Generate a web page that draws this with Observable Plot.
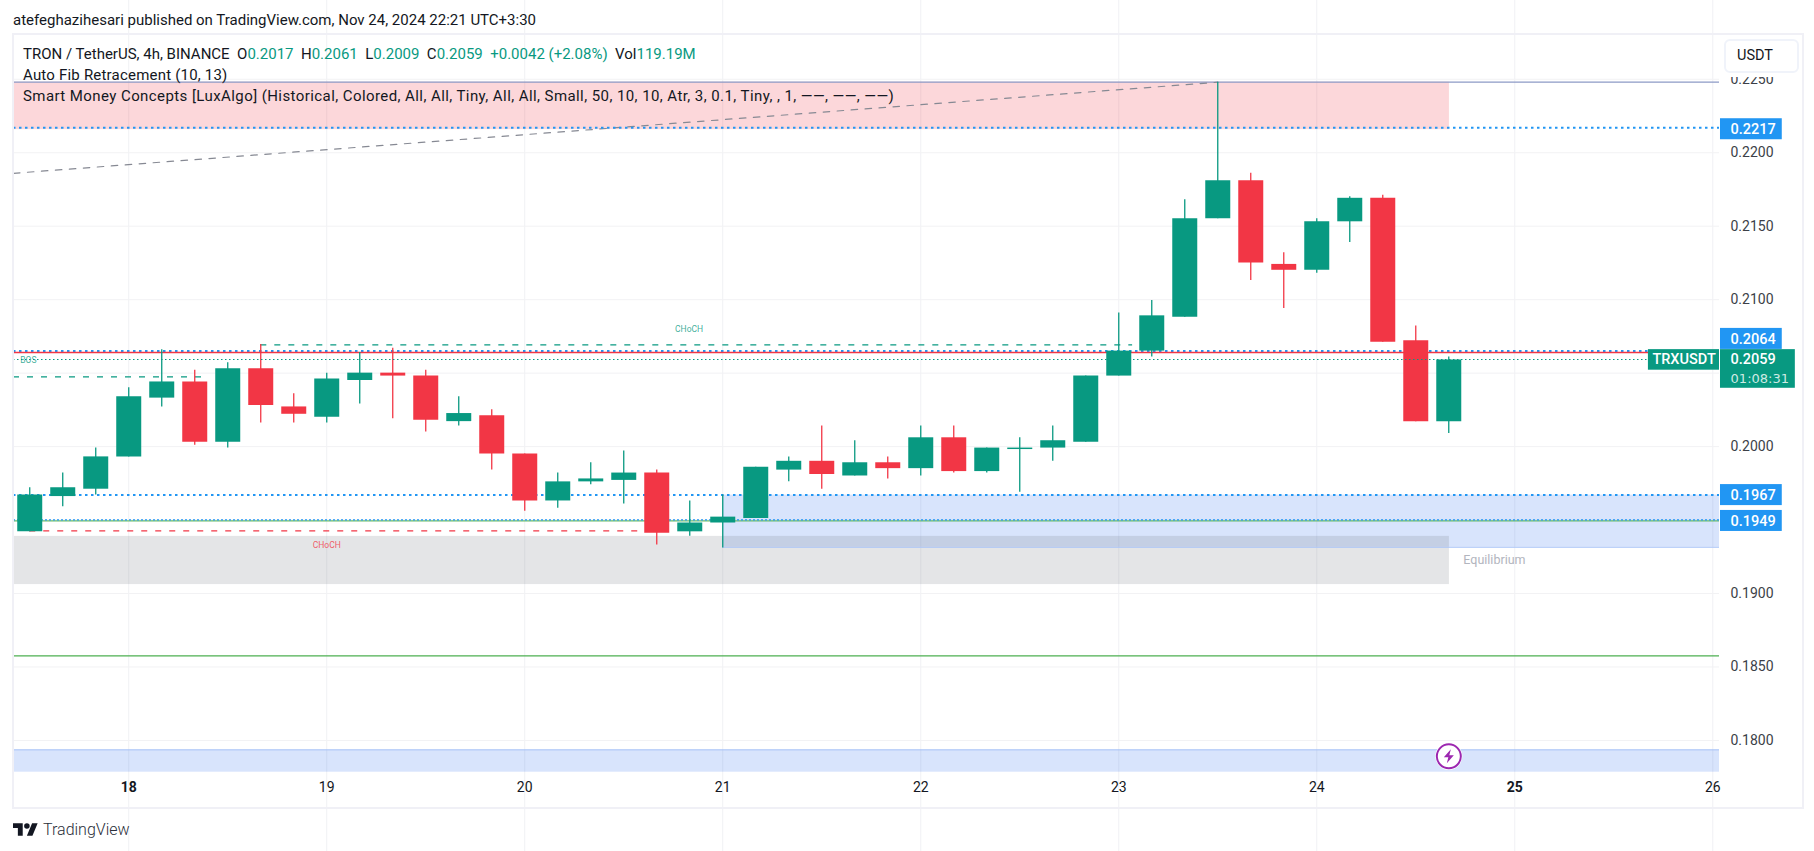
<!DOCTYPE html>
<html><head><meta charset="utf-8">
<script src="https://cdn.jsdelivr.net/npm/d3@7"></script>
<script src="https://cdn.jsdelivr.net/npm/@observablehq/plot@0.6"></script>
<style>
html,body{margin:0;padding:0;background:#fff;overflow:hidden;width:1814px;height:851px}
body{font-family:Roboto,sans-serif;color:#131722;position:relative}
svg{display:block}
.t{position:absolute;white-space:nowrap;font-size:15px;line-height:18px}
.g{color:#089981}
#frame{position:absolute;left:12px;top:33px;width:1788px;height:772px;border:2px solid #f0f0f6;pointer-events:none}
#usdt{position:absolute;left:1724px;top:39px;width:71px;height:30px;border:2px solid #f0f3fa;border-radius:6px;background:#fff;box-shadow:0 4px 0 #fff;font-size:14.5px;line-height:30px;text-indent:11px}
</style></head><body>
<div id="chart"></div>
<div id="frame"></div>
<div id="usdt">USDT</div>
<div class="t" style="left:13px;top:11px;">atefeghazihesari published on TradingView.com, Nov 24, 2024 22:21 UTC+3:30</div>
<div class="t" style="left:23px;top:45px;">TRON / TetherUS, 4h, BINANCE&nbsp;&nbsp;O<span class="g">0.2017</span>&nbsp;&nbsp;H<span class="g">0.2061</span>&nbsp;&nbsp;L<span class="g">0.2009</span>&nbsp;&nbsp;C<span class="g">0.2059</span>&nbsp;&nbsp;<span class="g">+0.0042 (+2.08%)</span>&nbsp;&nbsp;Vol<span class="g">119.19M</span></div>
<div class="t" style="left:23px;top:66px;letter-spacing:.2px">Auto Fib Retracement (10, 13)</div>
<div class="t" style="left:23px;top:87px;letter-spacing:.42px">Smart Money Concepts [LuxAlgo] (Historical, Colored, All, All, Tiny, All, All, Small, 50, 10, 10, Atr, 3, 0.1, Tiny, , 1, ——, ——, ——)</div>
<svg style="position:absolute;left:13px;top:823px" width="25" height="13" viewBox="0 4 36 18"><path fill="#131722" d="M14 22H7V11H0V4h14v18zM28 22h-8l7.5-18h8L28 22z"/><circle fill="#131722" cx="20" cy="8" r="4"/></svg>
<div class="t" style="left:43px;top:821px;font-size:16px;font-weight:300;color:#2a2e39">TradingView</div>
<script>
const startDay = 17.5;
const opens  = [.1942,.1966,.1971,.1993,.2033,.2044,.2003,.2053,.2027,.2020,.2045,.2050,.2048,.2017,.2021,.1995,.1963,.1976,.1977,.1982,.1942,.1948,.1951,.1984,.1990,.1980,.1989,.1985,.2006,.1983,.1998,.1999,.2003,.2048,.2065,.2088,.2155,.2181,.2124,.2120,.2153,.2169,.2072,.2017];
const highs  = [.1972,.1982,.1999,.2040,.2066,.2052,.2057,.20695,.2036,.2050,.2064,.2067,.2052,.2034,.2025,.1995,.1982,.1989,.1997,.1984,.1963,.1967,.1986,.1993,.2014,.2004,.1993,.2014,.2014,.1999,.2006,.2014,.2048,.2091,.20995,.2168,.2248,.2186,.2132,.2155,.2170,.2171,.2082,.2061];
const lows   = [.1942,.1959,.1967,.1993,.2027,.2001,.1999,.2016,.2016,.2016,.2029,.2019,.2010,.2014,.1984,.1956,.1958,.1974,.1961,.1933,.1939,.1931,.1951,.1976,.1971,.1980,.1978,.1980,.1982,.1982,.1969,.1990,.2003,.2048,.2061,.2088,.2155,.2113,.2094,.2118,.2139,.2071,.2017,.2009];
const closes = [.1967,.1972,.1993,.2034,.2044,.2003,.2053,.2028,.2022,.2046,.2050,.2048,.2018,.20225,.1995,.1963,.1976,.1978,.1982,.1941,.1948,.1952,.1986,.1990,.1981,.1989,.1985,.2006,.1983,.1999,.1999,.2004,.2048,.2065,.2089,.2155,.2181,.2125,.2120,.2153,.2169,.2071,.2017,.2059];
const priceTicks = [.18,.185,.19,.195,.2,.205,.21,.215,.22,.225];
const hiddenPriceLabels = [.195,.205];
const dayTicks = [18,19,20,21,22,23,24,25,26];
const boldDays = [18,25];

const left = 17.418, right = 26.034, peakDay = 23.5, zoneEnd = 24.67;
const candles = opens.map((o,i)=>({t:startDay+i/6,o,h:highs[i],l:lows[i],c:closes[i]}));
const up = candles.filter(d=>d.c>=d.o), down = candles.filter(d=>d.c<d.o);
const GREEN="#089981", RED="#f23645", BLUE="#2196f3", ZONE="#3070f0";

const band=(x1,x2,y1,y2,fill,fillOpacity)=>Plot.rect([{x1,x2,y1,y2}],{x1:"x1",x2:"x2",y1:"y1",y2:"y2",fill,fillOpacity});
const level=(y,x1,x2,opts)=>Plot.ruleY([{y,x1,x2}],{y:"y",x1:"x1",x2:"x2",...opts});

const priceTags=[
 {text:"0.2217",y:.2216,color:BLUE},{text:"0.2064",y:.20733,color:BLUE},
 {text:"0.1967",y:.1967,color:BLUE},{text:"0.1949",y:.19494,color:BLUE}];
const tagL=26.039,tagR=26.351,tagH=.000715;

const chart=Plot.plot({
 width:1814,height:851,marginLeft:0,marginRight:0,marginTop:0,marginBottom:0,
 style:{fontFamily:"Roboto,sans-serif",background:"transparent",overflow:"visible"},
 x:{domain:[left,right],range:[13,1719]},
 y:{domain:[.17784,.22798],range:[771.7,35]},
 marks:[
  Plot.gridX(dayTicks,{stroke:"#f0f1f4",strokeOpacity:1}),
  Plot.gridY(priceTicks,{x1:left,x2:right,stroke:"#f2f2f4",strokeOpacity:1}),
  band(left,zoneEnd,.22157,.2248,RED,.2),
  band(21,right,.19315,.1967,ZONE,.19),
  band(left,zoneEnd,.19061,.19389,"#787b86",.2),
  band(left,right,.17784,.17936,ZONE,.19),
  level(.19315,21,right,{stroke:"#a8c3f7",strokeWidth:1}),
  level(.17936,left,right,{stroke:"#a8c3f7",strokeWidth:1}),
  level(.2248,left,right,{stroke:"#8c9ac6",strokeWidth:1.3}),
  Plot.line([{x:left,y:.2186},{x:peakDay,y:.2248}],{x:"x",y:"y",stroke:"#868993",strokeWidth:1.2,strokeDasharray:"6.5,7.5"}),
  level(.2217,left,right,{stroke:BLUE,strokeWidth:2,strokeDasharray:"2.5,3.5"}),
  level(.206508,left,right,{stroke:BLUE,strokeWidth:2,strokeDasharray:"2.5,3.5"}),
  level(.206406,left,right,{stroke:RED,strokeWidth:1.5}),
  level(.1967,left,right,{stroke:BLUE,strokeWidth:2,strokeDasharray:"2.5,3.5"}),
  level(.19495,left,right,{stroke:"#66bb6a",strokeWidth:1.3}),
  level(.19502,left,right,{stroke:BLUE,strokeWidth:1.2,strokeDasharray:"2,2"}),
  level(.18576,left,right,{stroke:"#4caf50",strokeWidth:1.2}),
  level(.20475,left,18.405,{stroke:"#089981",strokeWidth:1.2,strokeDasharray:"6,8"}),
  level(.20693,18.667,23.07,{stroke:"#089981",strokeWidth:1.2,strokeDasharray:"6,8"}),
  level(.19427,17.5,20.667,{stroke:RED,strokeWidth:1.2,strokeDasharray:"6,8"}),
  Plot.text(["BOS"],{x:()=>17.493,y:()=>.20586,fill:GREEN,fillOpacity:.8,fontSize:8.5}),
  Plot.text(["CHoCH"],{x:()=>20.83,y:()=>.20797,fill:GREEN,fillOpacity:.8,fontSize:8.5}),
  Plot.text(["CHoCH"],{x:()=>19,y:()=>.19327,fill:RED,fillOpacity:.8,fontSize:8.5}),
  Plot.text(["Equilibrium"],{x:()=>24.74,y:()=>.19225,fill:"#b2b5be",fontSize:12.5,textAnchor:"start"}),
  // candles
  Plot.ruleX(up,{x:"t",y1:"l",y2:"h",stroke:GREEN,strokeWidth:1.3}),
  Plot.ruleX(down,{x:"t",y1:"l",y2:"h",stroke:RED,strokeWidth:1.3}),
  Plot.ruleX(up,{x:"t",y1:"o",y2:"c",stroke:GREEN,strokeWidth:25}),
  Plot.ruleX(down,{x:"t",y1:"o",y2:"c",stroke:RED,strokeWidth:25}),
  // last-price line
  level(.20593,left,25.675,{stroke:GREEN,strokeWidth:1.2,strokeDasharray:"1.5,2.5"}),
  // axes
  Plot.axisY(priceTicks.filter(d=>!hiddenPriceLabels.includes(d)),{anchor:"right",x:right,tickSize:0,tickPadding:11,tickFormat:d3.format(".4f"),fontSize:14,fill:"#3c3f48",label:null}),
  Plot.axisX(dayTicks.filter(d=>!boldDays.includes(d)),{anchor:"bottom",y:.17784,tickSize:0,tickPadding:10,tickFormat:d=>String(d),fontSize:14,fill:"#131722",label:null}),
  Plot.axisX(boldDays,{anchor:"bottom",y:.17784,tickSize:0,tickPadding:10,tickFormat:d=>String(d),fontSize:14,fontWeight:700,fill:"#131722",label:null}),
  // price tags
  Plot.rect(priceTags,{x1:()=>tagL,x2:()=>tagR,y1:d=>d.y-tagH,y2:d=>d.y+tagH,fill:BLUE}),
  Plot.rect([0],{x1:()=>tagL,x2:()=>26.417,y1:()=>.20397,y2:()=>.2066,fill:GREEN}),
  Plot.rect([0],{x1:()=>25.675,x2:()=>right,y1:()=>.2052,y2:()=>.2066,fill:GREEN}),
  Plot.text(priceTags,{x:()=>26.09,y:"y",text:"text",fill:"#fff",fontSize:14.5,fontWeight:500,textAnchor:"start"}),
  Plot.text(["0.2059"],{x:()=>26.09,y:()=>.20593,fill:"#fff",fontSize:14.5,fontWeight:500,textAnchor:"start"}),
  Plot.text(["01:08:31"],{x:()=>26.09,y:()=>.20463,fill:"#cfeae4",fontSize:13,fontFamily:"DejaVu Sans",textAnchor:"start"}),
  Plot.text(["TRXUSDT"],{x:()=>25.855,y:()=>.20593,fill:"#fff",fontSize:14.5,fontWeight:500}),
  // alert marker
  Plot.dot([0],{x:()=>24.667,y:()=>.17892,r:13.5,fill:"#fff"}),
  Plot.dot([0],{x:()=>24.667,y:()=>.17892,r:12,fill:"#fff",stroke:"#9c27b0",strokeWidth:2}),
  Plot.dot([0],{x:()=>24.667,y:()=>.17892,r:8,fill:"#9c27b0",stroke:"none",symbol:{draw(c,s){const k=Math.sqrt(s/Math.PI)/8;
    c.moveTo(2*k,-7*k);c.lineTo(-5*k,1*k);c.lineTo(-.5*k,1*k);c.lineTo(-2*k,7*k);c.lineTo(5*k,-1*k);c.lineTo(.5*k,-1*k);c.closePath();}}})
 ]});
document.getElementById("chart").appendChild(chart);
</script>
</body></html>
